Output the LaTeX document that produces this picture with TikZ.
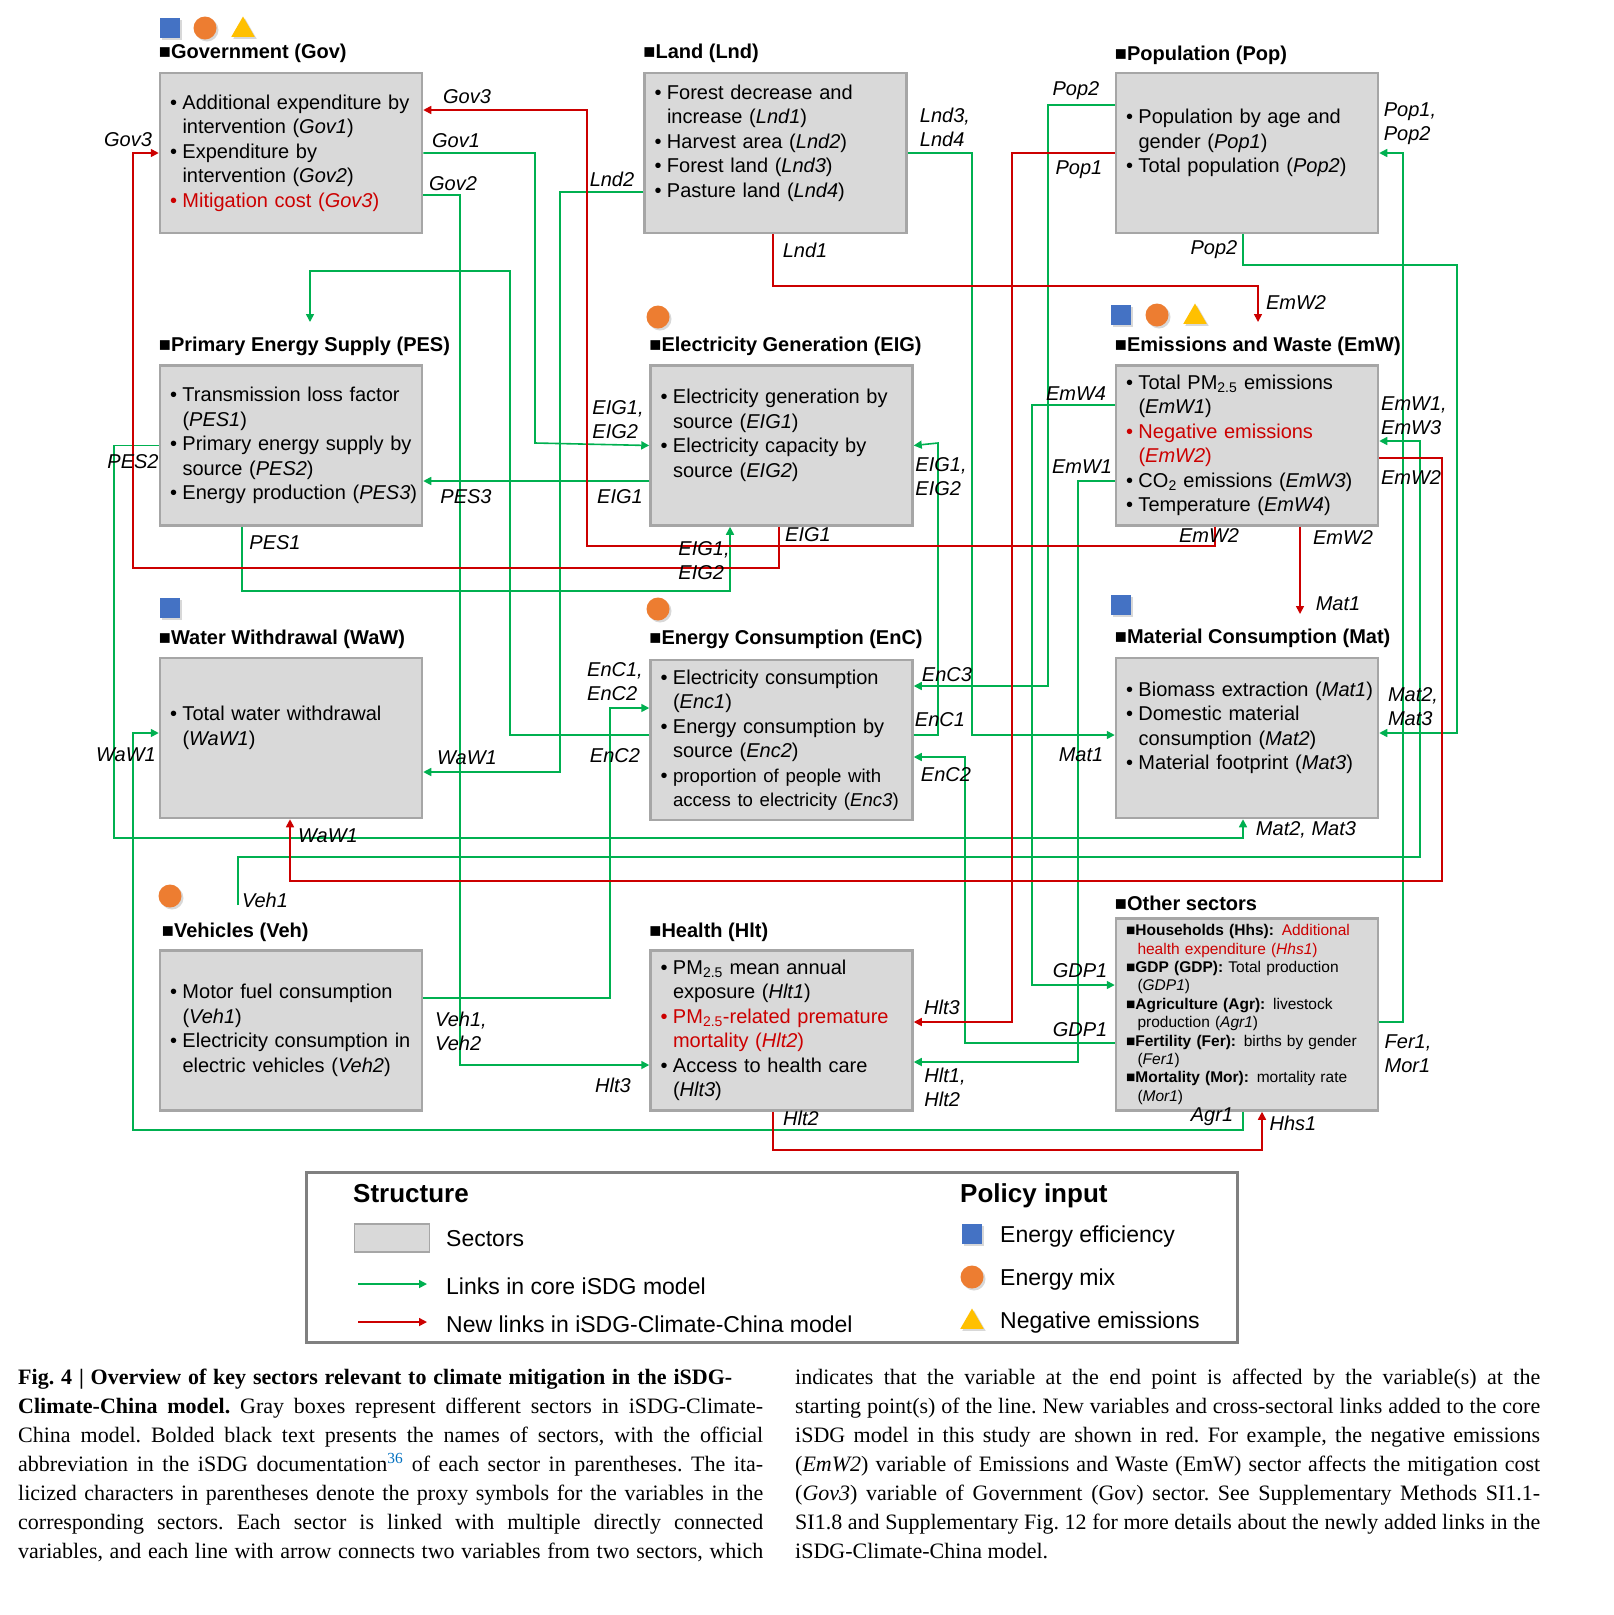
\documentclass[tikz,border=0pt]{standalone}
\usepackage{fontspec}
\setmainfont{Liberation Sans}
\newfontfamily\capfont{Liberation Serif}
\usetikzlibrary{positioning, arrows.meta, shapes.geometric, shadows}

\definecolor{linkgreen}{RGB}{0,176,80}
\definecolor{linkred}{RGB}{204,0,0}
\definecolor{boxgray}{RGB}{217,217,217}
\definecolor{boxline}{RGB}{166,166,166}
\definecolor{legline}{RGB}{128,128,128}
\definecolor{effblue}{RGB}{68,114,196}
\definecolor{mixorange}{RGB}{237,125,49}
\definecolor{negyellow}{RGB}{255,192,0}
\definecolor{capblue}{RGB}{0,112,192}

% bullet lines inside the sector boxes
\newcommand{\itm}[1]{\mbox{\makebox[12.5pt][l]{\textbullet}#1}}
\newcommand{\ritm}[1]{\mbox{\color{linkred}\makebox[12.5pt][l]{\textbullet}#1}}
\newcommand{\cnt}[1]{\mbox{\hspace*{12.5pt}#1}}
\newcommand{\rcnt}[1]{\mbox{\color{linkred}\hspace*{12.5pt}#1}}
\newcommand{\oitm}[1]{\mbox{■#1}}
\newcommand{\ocnt}[1]{\mbox{\hspace*{11.5pt}#1}}
\newcommand{\vv}[1]{\textit{#1}}
\newcommand{\sm}{\fontsize{18.6}{24.5}\selectfont}

\begin{document}
\begin{tikzpicture}[x=1pt, y=-1pt,
        sector/.style={rectangle, draw=boxline, line width=2.5pt, fill=boxgray, minimum width=262pt, minimum height=160pt, text width=242pt, inner xsep=10pt, align=left, font=\fontsize{20}{24.5}\selectfont},
        title/.style={anchor=base west, inner sep=0pt, font=\bfseries\fontsize{20}{24}\selectfont},
        lbl/.style={inner sep=0pt, align=left, font=\itshape\fontsize{20}{24}\selectfont},
        corelink/.style={draw=linkgreen, line width=1.6pt, -{Triangle[length=8pt, width=8pt]}},
        newlink/.style={draw=linkred, line width=1.6pt, -{Triangle[length=8pt, width=8pt]}},
        effsq/.style={rectangle, fill=effblue, minimum size=20pt, inner sep=0pt, drop shadow={shadow xshift=2pt, shadow yshift=-2pt, opacity=0.3}},
        mixdot/.style={circle, fill=mixorange, minimum size=23pt, inner sep=0pt, drop shadow={shadow xshift=2pt, shadow yshift=-2pt, opacity=0.3}},
        negtri/.style={regular polygon, regular polygon sides=3, fill=negyellow, minimum size=27pt, inner sep=0pt, drop shadow={shadow xshift=2pt, shadow yshift=-2pt, opacity=0.3}},
        leghead/.style={anchor=base west, inner sep=0pt, font=\bfseries\fontsize{26}{30}\selectfont},
        legtext/.style={anchor=base west, inner sep=0pt, font=\fontsize{23}{28}\selectfont},
        capline/.style={anchor=base west, inner sep=0pt, font=\capfont\fontsize{22}{26}\selectfont\frenchspacing}
        ]
        \path[use as bounding box, fill=white] (0,0) rectangle (1614,1615);

        % sectors
        \node[sector] (gov) at (291,153) {\itm{Additional expenditure by}\\ \cnt{intervention (\vv{Gov1})}\\ \itm{Expenditure by}\\ \cnt{intervention (\vv{Gov2})}\\ \ritm{Mitigation cost (\vv{Gov3})}};
        \node[sector, right=220pt of gov] (lnd) {\itm{Forest decrease and}\\ \cnt{increase (\vv{Lnd1})}\\ \itm{Harvest area (\vv{Lnd2})}\\ \itm{Forest land (\vv{Lnd3})}\\ \itm{Pasture land (\vv{Lnd4})}\\ \mbox{}};
        \node[sector, right=207pt of lnd] (pop) {\itm{Population by age and}\\ \cnt{gender (\vv{Pop1})}\\ \itm{Total population (\vv{Pop2})}\\ \mbox{}};
        \node[sector, below=130pt of gov] (pes) {\itm{Transmission loss factor}\\ \cnt{(\vv{PES1})}\\ \itm{Primary energy supply by}\\ \cnt{source (\vv{PES2})}\\ \itm{Energy production (\vv{PES3})}};
        \node[sector, below=130pt of lnd, xshift=6pt] (eig) {\itm{Electricity generation by}\\ \cnt{source (\vv{EIG1})}\\ \itm{Electricity capacity by}\\ \cnt{source (\vv{EIG2})}\\ \mbox{}};
        \node[sector, below=130pt of pop] (emw) {\itm{Total PM\textsubscript{2.5} emissions}\\ \cnt{(\vv{EmW1})}\\ \ritm{Negative emissions}\\ \rcnt{(\vv{EmW2})}\\ \itm{CO\textsubscript{2} emissions (\vv{EmW3})}\\ \itm{Temperature (\vv{EmW4})}};
        \node[sector, below=130pt of pes] (waw) {\itm{Total water withdrawal}\\ \cnt{(\vv{WaW1})}\\ \mbox{}};
        \node[sector, below=132pt of eig] (enc) {\itm{Electricity consumption}\\ \cnt{(\vv{Enc1})}\\ \itm{Energy consumption by}\\ \cnt{source (\vv{Enc2})}\\ \itm{\sm proportion of people with}\\ \cnt{\sm access to electricity (\vv{Enc3})}};
        \node[sector, below=130pt of emw] (mat) {\itm{Biomass extraction (\vv{Mat1})}\\ \itm{Domestic material}\\ \cnt{consumption (\vv{Mat2})}\\ \itm{Material footprint (\vv{Mat3})}\\ \mbox{}};
        \node[sector, below=130pt of waw] (veh) {\itm{Motor fuel consumption}\\ \cnt{(\vv{Veh1})}\\ \itm{Electricity consumption in}\\ \cnt{electric vehicles (\vv{Veh2})}};
        \node[sector, below=128pt of enc] (hlt) {\itm{PM\textsubscript{2.5} mean annual}\\ \cnt{exposure (\vv{Hlt1})}\\ \ritm{PM\textsubscript{2.5}-related premature}\\ \rcnt{mortality (\vv{Hlt2})}\\ \itm{Access to health care}\\ \cnt{(\vv{Hlt3})}};
        \node[sector, below=98pt of mat, minimum height=192pt, font=\fontsize{15.5}{18.4}\selectfont] (oth) {\oitm{\textbf{Households (Hhs):} \color{linkred}Additional}\\ \ocnt{\color{linkred}health expenditure (\vv{Hhs1})}\\ \oitm{\textbf{GDP (GDP):} Total production}\\ \ocnt{(\vv{GDP1})}\\ \oitm{\textbf{Agriculture (Agr):} livestock}\\ \ocnt{production (\vv{Agr1})}\\ \oitm{\textbf{Fertility (Fer):} births by gender}\\ \ocnt{(\vv{Fer1})}\\ \oitm{\textbf{Mortality (Mor):} mortality rate}\\ \ocnt{(\vv{Mor1})}};

        % sector titles
        \node[title] (govT) at ([yshift=13pt]gov.north west) {■Government (Gov)};
        \node[title] (lndT) at ([yshift=13pt]lnd.north west) {■Land (Lnd)};
        \node[title] (popT) at ([yshift=11pt]pop.north west) {■Population (Pop)};
        \node[title] (pesT) at ([yshift=13pt]pes.north west) {■Primary Energy Supply (PES)};
        \node[title] (eigT) at ([yshift=13pt]eig.north west) {■Electricity Generation (EIG)};
        \node[title] (emwT) at ([yshift=13pt]emw.north west) {■Emissions and Waste (EmW)};
        \node[title] (wawT) at ([yshift=12pt]waw.north west) {■Water Withdrawal (WaW)};
        \node[title] (encT) at ([yshift=14pt]enc.north west) {■Energy Consumption (EnC)};
        \node[title] (matT) at ([yshift=13pt]mat.north west) {■Material Consumption (Mat)};
        \node[title] (vehT) at ([xshift=3pt, yshift=12pt]veh.north west) {■Vehicles (Veh)};
        \node[title] (hltT) at ([yshift=12pt]hlt.north west) {■Health (Hlt)};
        \node[title] (othT) at ([yshift=7pt]oth.north west) {■Other sectors};

        % policy inputs
        \node[effsq] (govE) at (170,28) {};
        \node[mixdot] (govM) at (205,28) {};
        \node[negtri] (govN) at (243,30) {};
        \node[mixdot] (eigM) at (658,317) {};
        \node[effsq] (emwE) at (1121,315) {};
        \node[mixdot] (emwM) at (1157,315) {};
        \node[negtri] (emwN) at (1195,317) {};
        \node[effsq] (wawE) at (170,608) {};
        \node[mixdot] (encM) at (658,609) {};
        \node[effsq] (matE) at (1121,605) {};
        \node[mixdot] (vehM) at (170,896) {};

        % free ends
        \coordinate (pesin) at (310,322);
        \coordinate (emwin) at (1258,322);
        \coordinate (matin) at (1300,614);
        \coordinate (vehout) at (238,905);

        % links in core model
        \draw[corelink] (gov.east) -| (535,443) -- (eig.west);
        \draw[corelink] (gov.east |- 0,195) -| (460,1065) -- (hlt.west |- 0,1065);
        \draw[corelink] (lnd.west |- 0,192) -| (560,772) -- (waw.east |- 0,772);
        \draw[corelink] (enc.west |- 0,735) -| (510,271) -| (pesin);
        \draw[corelink] (veh.east |- 0,998) -| (610,708) -- (enc.west |- 0,708);
        \draw[corelink] (lnd.east) -| (972,735) -- (mat.west |- 0,735);
        \draw[corelink] (pop.west |- 0,105) -| (1048,686) -- (enc.east |- 0,686);
        \draw[corelink] (enc.east |- 0,735) -| (938,443) -- (eig.east);
        \draw[corelink] (oth.west |- 0,1043) -| (965,757) -- (enc.east |- 0,757);
        \draw[corelink] (emw.west |- 0,481) -| (1078,1062) -- (hlt.east |- 0,1062);
        \draw[corelink] (emw.west |- 0,405) -| (1032,985) -- (oth.west |- 0,985);
        \draw[corelink] (oth.south -| 1243,0) |- (133,1130) |- (waw.west |- 0,733);
        \draw[corelink] (oth.east |- 0,1022) -| (1403,153) -- (pop.east);
        \draw[corelink] (pop.south -| 1243,0) |- (1457,265) |- (mat.east |- 0,733);
        \draw[corelink] (vehout) |- (1420,857) |- (emw.east |- 0,441);
        \draw[corelink] (pes.west) -| (114,838) -| (mat.south -| 1243,0);
        \draw[corelink] (pes.south -| 242,0) |- (730,591) -- (eig.south -| 730,0);
        \draw[corelink] (eig.west |- 0,481) -- (pes.east |- 0,481);

        % new links
        \draw[newlink] (emw.south -| 1215,0) |- (587,546) |- (gov.east |- 0,110);
        \draw[newlink] (eig.south -| 779,0) |- (133,568) |- (gov.west);
        \draw[newlink] (lnd.south -| 773,0) |- (1258,286) -- (emwin);
        \draw[newlink] (pop.west) -| (1012,1022) -- (hlt.east |- 0,1022);
        \draw[newlink] (hlt.south -| 773,0) |- (1262,1150) -- (oth.south -| 1262,0);
        \draw[newlink] (emw.east |- 0,458) -| (1442,881) -| (waw.south -| 290,0);
        \draw[newlink] (emw.south -| 1300,0) -- (matin);

        % variable labels
        \node[lbl] (gov3a) at (467,97) {Gov3};
        \node[lbl] (gov3b) at (128,140) {Gov3};
        \node[lbl] (gov1) at (456,141) {Gov1};
        \node[lbl] (gov2) at (453,184) {Gov2};
        \node[lbl] (lnd2) at (612,179) {Lnd2};
        \node[lbl] (lnd34) at (945,127) {Lnd3,\\Lnd4};
        \node[lbl] (lnd1) at (805,250) {Lnd1};
        \node[lbl] (pop2a) at (1076,91) {Pop2};
        \node[lbl] (pop1) at (1079,170) {Pop1};
        \node[lbl] (pop12) at (1410,124) {Pop1,\\Pop2};
        \node[lbl] (pop2b) at (1214,250) {Pop2};
        \node[lbl] (emw2a) at (1296,303) {EmW2};
        \node[lbl] (eig12a) at (618,420) {EIG1,\\EIG2};
        \node[lbl] (eig1a) at (620,497) {EIG1};
        \node[lbl] (pes3) at (466,497) {PES3};
        \node[lbl] (pes2) at (133,462) {PES2};
        \node[lbl] (pes1) at (275,543) {PES1};
        \node[lbl] (eig12b) at (941,477) {EIG1,\\EIG2};
        \node[lbl] (eig1b) at (808,535) {EIG1};
        \node[lbl] (eig12c) at (704,561) {EIG1,\\EIG2};
        \node[lbl] (emw4) at (1076,394) {EmW4};
        \node[lbl] (emw1) at (1082,467) {EmW1};
        \node[lbl] (emw13) at (1414,416) {EmW1,\\EmW3};
        \node[lbl] (emw2b) at (1411,478) {EmW2};
        \node[lbl] (emw2c) at (1209,536) {EmW2};
        \node[lbl] (emw2d) at (1343,538) {EmW2};
        \node[lbl] (mat1a) at (1338,604) {Mat1};
        \node[lbl] (enc12) at (615,682) {EnC1,\\EnC2};
        \node[lbl] (enc2a) at (615,756) {EnC2};
        \node[lbl] (enc3) at (947,675) {EnC3};
        \node[lbl] (enc1) at (940,720) {EnC1};
        \node[lbl] (enc2b) at (946,775) {EnC2};
        \node[lbl] (waw1a) at (467,758) {WaW1};
        \node[lbl] (waw1b) at (126,755) {WaW1};
        \node[lbl] (mat1b) at (1081,755) {Mat1};
        \node[lbl] (mat23a) at (1413,707) {Mat2,\\Mat3};
        \node[lbl] (waw1c) at (328,836) {WaW1};
        \node[lbl] (mat23b) at (1306,830) {Mat2, Mat3};
        \node[lbl] (veh1) at (265,900) {Veh1};
        \node[lbl] (veh12) at (461,1031) {Veh1,\\Veh2};
        \node[lbl] (hlt3a) at (613,1085) {Hlt3};
        \node[lbl] (hlt3b) at (942,1007) {Hlt3};
        \node[lbl] (gdp1a) at (1080,971) {GDP1};
        \node[lbl] (gdp1b) at (1080,1030) {GDP1};
        \node[lbl] (hlt12) at (945,1087) {Hlt1,\\Hlt2};
        \node[lbl] (fermor) at (1408,1054) {Fer1,\\Mor1};
        \node[lbl] (hlt2) at (801,1118) {Hlt2};
        \node[lbl] (agr1) at (1212,1117) {Agr1};
        \node[lbl] (hhs1) at (1293,1123) {Hhs1};

        % legend
        \node[rectangle, draw=legline, line width=3pt, minimum width=931pt, minimum height=170pt] (legend) at (772,1257) {};
        \node[leghead] (structT) at (353,1202) {Structure};
        \node[rectangle, draw=boxline, line width=1.5pt, fill=boxgray, minimum width=75pt, minimum height=28pt] (legsec) at (392,1238) {};
        \node[legtext] (legsecT) at (446,1246) {Sectors};
        \coordinate (lgcoreA) at (358,1284);
        \coordinate (lgcoreB) at (427,1284);
        \coordinate (lgnewA) at (358,1322);
        \coordinate (lgnewB) at (427,1322);
        \draw[corelink] (lgcoreA) -- (lgcoreB);
        \draw[newlink] (lgnewA) -- (lgnewB);
        \node[legtext] (legcoreT) at (446,1294) {Links in core iSDG model};
        \node[legtext] (legnewT) at (446,1332) {New links in iSDG-Climate-China model};
        \node[leghead] (policyT) at (960,1202) {Policy input};
        \node[effsq] (legE) at (972,1234) {};
        \node[mixdot] (legM) at (972,1277) {};
        \node[negtri] (legN) at (972,1322) {};
        \node[legtext] (legET) at (1000,1242) {Energy efficiency};
        \node[legtext] (legMT) at (1000,1285) {Energy mix};
        \node[legtext] (legNT) at (1000,1328) {Negative emissions};

        % caption
        \node[capline] (capL1) at (18,1384) {\hbox to 714pt{\bfseries Fig. 4 | Overview of key sectors relevant to climate mitigation in the iSDG-}};
        \node[capline] (capL2) at (18,1413) {\hbox to 745pt{\textbf{Climate-China model.} Gray boxes represent different sectors in iSDG-Climate-}};
        \node[capline] (capL3) at (18,1442) {\hbox to 745pt{China model. Bolded black text presents the names of sectors, with the official}};
        \node[capline] (capL4) at (18,1471) {\hbox to 745pt{abbreviation in the iSDG documentation\textsuperscript{\color{capblue}36} of each sector in parentheses. The ita-}};
        \node[capline] (capL5) at (18,1500) {\hbox to 745pt{licized characters in parentheses denote the proxy symbols for the variables in the}};
        \node[capline] (capL6) at (18,1529) {\hbox to 745pt{corresponding sectors. Each sector is linked with multiple directly connected}};
        \node[capline] (capL7) at (18,1558) {\hbox to 745pt{variables, and each line with arrow connects two variables from two sectors, which}};
        \node[capline] (capR1) at (795,1384) {\hbox to 745pt{indicates that the variable at the end point is affected by the variable(s) at the}};
        \node[capline] (capR2) at (795,1413) {\hbox to 745pt{starting point(s) of the line. New variables and cross-sectoral links added to the core}};
        \node[capline] (capR3) at (795,1442) {\hbox to 745pt{iSDG model in this study are shown in red. For example, the negative emissions}};
        \node[capline] (capR4) at (795,1471) {\hbox to 745pt{(\textit{EmW2}) variable of Emissions and Waste (EmW) sector affects the mitigation cost}};
        \node[capline] (capR5) at (795,1500) {\hbox to 745pt{(\textit{Gov3}) variable of Government (Gov) sector. See Supplementary Methods SI1.1-}};
        \node[capline] (capR6) at (795,1529) {\hbox to 745pt{SI1.8 and Supplementary Fig. 12 for more details about the newly added links in the}};
        \node[capline] (capR7) at (795,1558) {iSDG-Climate-China model.};
    \end{tikzpicture}
\end{document}
